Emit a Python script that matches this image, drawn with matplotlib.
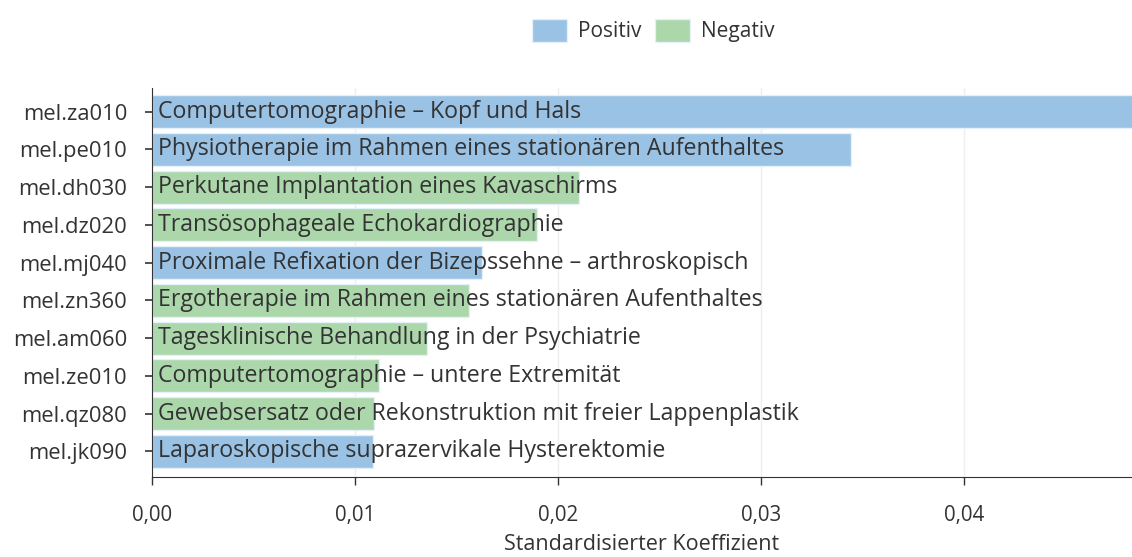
import matplotlib
matplotlib.use('Agg')
import matplotlib.pyplot as plt
import matplotlib.patches as mpatches

# data, top to bottom
codes = ['mel.za010', 'mel.pe010', 'mel.dh030', 'mel.dz020', 'mel.mj040',
         'mel.zn360', 'mel.am060', 'mel.ze010', 'mel.qz080', 'mel.jk090']
names = ['Computertomographie \u2013 Kopf und Hals',
         'Physiotherapie im Rahmen eines station\u00e4ren Aufenthaltes',
         'Perkutane Implantation eines Kavaschirms',
         'Trans\u00f6sophageale Echokardiographie',
         'Proximale Refixation der Bizepssehne \u2013 arthroskopisch',
         'Ergotherapie im Rahmen eines station\u00e4ren Aufenthaltes',
         'Tagesklinische Behandlung in der Psychiatrie',
         'Computertomographie \u2013 untere Extremit\u00e4t',
         'Gewebsersatz oder Rekonstruktion mit freier Lappenplastik',
         'Laparoskopische suprazervikale Hysterektomie']
coef = [0.0500, 0.03443, 0.02103, 0.01897, 0.01626,
        0.01562, 0.01355, 0.01118, 0.01094, 0.01089]
sign = ['Positiv', 'Positiv', 'Negativ', 'Negativ', 'Positiv',
        'Negativ', 'Negativ', 'Negativ', 'Negativ', 'Positiv']
xticks = [0.0, 0.01, 0.02, 0.03, 0.04]
xticklabels = ['0,00', '0,01', '0,02', '0,03', '0,04']

colors = {'Positiv': '#9ac2e5', 'Negativ': '#abd7aa'}
txt = '#333333'

plt.rcParams['font.family'] = ['Open Sans', 'DejaVu Sans']

fig = plt.figure(figsize=(11.32, 5.57), dpi=100)
ax = fig.add_axes([0.1343, 0.1436, 0.8657, 0.698])

ypos = list(range(len(codes)))
ax.barh(ypos, coef, height=0.87, color=[colors[s] for s in sign],
        edgecolor='#e6f0f8', linewidth=1, zorder=2)
for y, n in zip(ypos, names):
    ax.text(0.0003, y, n, va='center', ha='left', fontsize=16.7, color=txt, zorder=3)

ax.set_xlim(0, 0.04828)
ax.set_ylim(9.68, -0.62)
ax.set_yticks(ypos)
ax.set_yticklabels(codes, fontsize=15.8, color=txt)
ax.set_xticks(xticks)
ax.set_xticklabels(xticklabels, fontsize=14.8, color=txt)
ax.tick_params(axis='y', length=5, width=1.2, color='#333333', pad=13)
ax.tick_params(axis='x', length=6, width=1, color='#333333', pad=14)
ax.xaxis.grid(True, color='#eeeeee', linewidth=1, zorder=0)
ax.set_axisbelow(True)
for s in ['top', 'right']:
    ax.spines[s].set_visible(False)
ax.spines['left'].set_color('#333333')
ax.spines['bottom'].set_color('#333333')
ax.set_xlabel('Standardisierter Koeffizient', fontsize=15.5, color=txt, labelpad=6)

handles = [mpatches.Patch(facecolor=colors['Positiv'], edgecolor='#e6f0f8', label='Positiv'),
           mpatches.Patch(facecolor=colors['Negativ'], edgecolor='#e6f0f8', label='Negativ')]
fig.legend(handles=handles, loc='upper center', bbox_to_anchor=(0.577, 1.0), ncol=2,
           frameon=False, fontsize=15, handlelength=1.68, handleheight=1.35,
           columnspacing=0.67, handletextpad=0.53, labelcolor=txt)

fig.savefig('out.png', dpi=100)
